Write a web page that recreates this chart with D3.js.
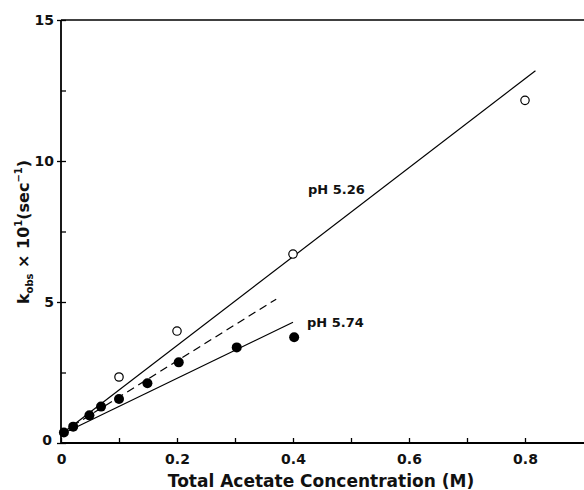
<!DOCTYPE html>
<html><head><meta charset="utf-8">
<script src="https://cdn.jsdelivr.net/npm/d3@7"></script>
<style>body{margin:0;background:#fff}svg{display:block}text{font-family:"DejaVu Sans",sans-serif;fill:#111}</style>
</head><body>
<script>
// Data
const openX = [0.1, 0.2, 0.4, 0.8];            // pH 5.26
const openY = [2.34, 3.97, 6.7, 12.15];
const filledX = [0.005, 0.021, 0.049, 0.069, 0.1, 0.149, 0.203, 0.303, 0.402]; // pH 5.74
const filledY = [0.37, 0.58, 0.98, 1.29, 1.56, 2.12, 2.86, 3.39, 3.75];
const line526 = [[0, 0.3], [0.818, 13.2]];
const line574 = [[0, 0.3], [0.4, 4.28]];
const dashLine = [[0, 0.35], [0.371, 5.1]];
const xTicks = [0, 0.2, 0.4, 0.6, 0.8];
const xMinor = [0.1, 0.3, 0.5, 0.7];
const yTicks = [0, 5, 10, 15];
const yMinor = [2.5, 7.5, 12.5];

const W = 584, H = 490;
const svg = d3.select("body").append("svg").attr("width", W).attr("height", H);
const x = d3.scaleLinear().domain([0, 0.9]).range([61, 583]);
const y = d3.scaleLinear().domain([0, 15]).range([443, 20]);

// frame: left axis, bottom axis, top line
svg.append("line").attr("x1", x(0)).attr("x2", W).attr("y1", y(15)).attr("y2", y(15)).attr("stroke", "#000").attr("stroke-width", 1.6);

const xAxis = svg.append("g").attr("transform", `translate(0,${y(0)})`)
  .call(d3.axisBottom(x).tickValues(xTicks).tickSize(-5).tickPadding(8).tickFormat(d => d === 0 ? "0" : d3.format(".1f")(d)));
xAxis.select(".domain").attr("d", `M${x(0)},0H${W}`).attr("stroke-width", 1.8);
xAxis.selectAll("text").attr("font-size", 14).attr("font-weight", "bold").attr("dy", "0.9em");
const xm = svg.append("g").attr("transform", `translate(0,${y(0)})`)
  .call(d3.axisBottom(x).tickValues(xMinor).tickSize(-5).tickFormat(""));
xm.select(".domain").remove();

const yAxis = svg.append("g").attr("transform", `translate(${x(0)},0)`)
  .call(d3.axisLeft(y).tickValues(yTicks).tickSize(-5).tickPadding(6));
yAxis.select(".domain").attr("d", `M0,${y(0)}V${y(15)}`).attr("stroke-width", 1.8);
yAxis.selectAll("line").attr("x2", 5).attr("x1", -4);
yAxis.selectAll("text").attr("font-size", 14).attr("font-weight", "bold").attr("x", -7);
yAxis.selectAll(".tick").filter(d => d === 0).select("text").attr("x", -9).attr("dy", "0.1em");
const ym = svg.append("g").attr("transform", `translate(${x(0)},0)`)
  .call(d3.axisLeft(y).tickValues(yMinor).tickSize(-5).tickFormat(""));
ym.select(".domain").remove();
svg.selectAll(".tick line").attr("stroke-width", 1.3);

// lines
const lg = d3.line().x(d => x(d[0])).y(d => y(d[1]));
svg.append("path").attr("d", lg(line526)).attr("stroke", "#000").attr("stroke-width", 1.2).attr("fill", "none");
svg.append("path").attr("d", lg(line574)).attr("stroke", "#000").attr("stroke-width", 1.2).attr("fill", "none");
svg.append("path").attr("d", lg(dashLine)).attr("stroke", "#000").attr("stroke-width", 1.2).attr("fill", "none").attr("stroke-dasharray", "8,5");

// points
svg.selectAll(".op").data(openX.map((v, i) => [v, openY[i]])).join("circle")
  .attr("cx", d => x(d[0])).attr("cy", d => y(d[1])).attr("r", 4.2).attr("fill", "#fff").attr("stroke", "#000").attr("stroke-width", 1.2);
svg.selectAll(".fp").data(filledX.map((v, i) => [v, filledY[i]])).join("circle")
  .attr("cx", d => x(d[0])).attr("cy", d => y(d[1])).attr("r", 5).attr("fill", "#000");

// labels
svg.append("text").attr("x", 308).attr("y", 194).attr("font-size", 13).attr("font-weight", "bold").text("pH 5.26");
svg.append("text").attr("x", 307).attr("y", 327).attr("font-size", 13).attr("font-weight", "bold").text("pH 5.74");

// axis titles
svg.append("text").attr("x", 321).attr("y", 487).attr("text-anchor", "middle").attr("font-size", 17).attr("font-weight", "bold")
  .text("Total Acetate Concentration (M)");
const yt = svg.append("text").attr("transform", "translate(29,232) rotate(-90)").attr("text-anchor", "middle").attr("font-size", 16).attr("font-weight", "bold");
yt.append("tspan").text("k");
yt.append("tspan").attr("font-size", 10).attr("dy", 4).text("obs");
yt.append("tspan").attr("dy", -4).text(" \u00d7 10");
yt.append("tspan").attr("font-size", 10).attr("dy", -7).text("1");
yt.append("tspan").attr("dy", 7).text("(sec");
yt.append("tspan").attr("font-size", 10).attr("dy", -7).text("\u22121");
yt.append("tspan").attr("dy", 7).text(")");
</script>
</body></html>
